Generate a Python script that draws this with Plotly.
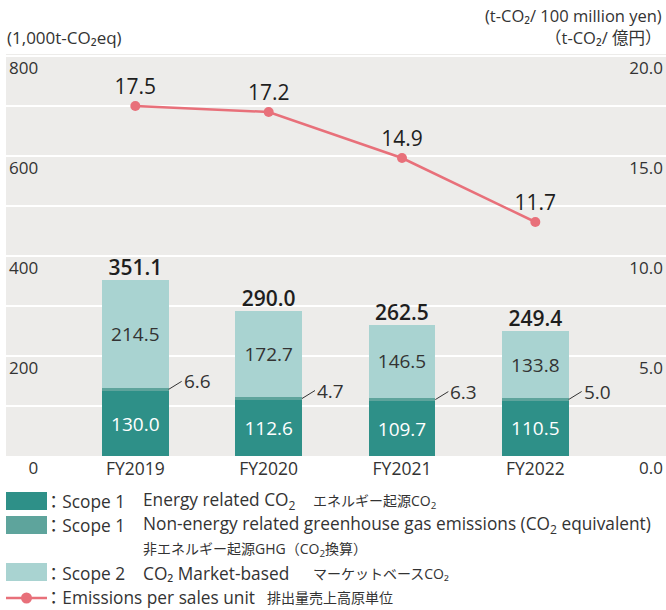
import plotly.graph_objects as go

# ---- data ----
years = ["FY2019", "FY2020", "FY2021", "FY2022"]
scope1_energy = [130.0, 112.6, 109.7, 110.5]
scope1_nonenergy = [6.6, 4.7, 6.3, 5.0]
scope2_market = [214.5, 172.7, 146.5, 133.8]
totals = [351.1, 290.0, 262.5, 249.4]
intensity = [17.5, 17.2, 14.9, 11.7]
left_ticks = [0, 200, 400, 600, 800]
right_ticks = [0, 5, 10, 15, 20]

# ---- styling ----
C_ENERGY = "#2e9088"
C_NONENERGY = "#5ea49c"
C_SCOPE2 = "#a9d3d1"
C_LINE = "#e8707a"
BG = "#edecea"
TXT = "#333333"
FONT = "Open Sans, Noto Sans CJK JP, sans-serif"

W, H = 666, 610
L, R, T, B = 6, 0, 54, 154
PW, PH = W - L - R, H - T - B


def px(x):
    return (x - L) / PW


def py(y):
    return (H - B - y) / PH


xs = list(range(len(years)))

fig = go.Figure()

fig.add_trace(go.Bar(
    x=xs, y=scope1_energy, width=0.5, marker=dict(color=C_ENERGY, line=dict(width=0)),
    text=[f"{v:.1f}" for v in scope1_energy], textposition="inside",
    insidetextanchor="middle", textangle=0,
    textfont=dict(color="white", size=19, family=FONT), hoverinfo="skip"))
fig.add_trace(go.Bar(
    x=xs, y=scope1_nonenergy, width=0.5, marker=dict(color=C_NONENERGY, line=dict(width=0)),
    hoverinfo="skip"))
fig.add_trace(go.Bar(
    x=xs, y=scope2_market, width=0.5, marker=dict(color=C_SCOPE2, line=dict(width=0)),
    text=[f"{v:.1f}" for v in scope2_market], textposition="inside",
    insidetextanchor="middle", textangle=0,
    textfont=dict(color=TXT, size=19, family=FONT), hoverinfo="skip"))

fig.add_trace(go.Scatter(
    x=xs, y=totals, mode="text", text=[f"{v:.1f}" for v in totals],
    textposition="top center",
    textfont=dict(color="#1e1e1e", size=21, family=FONT, weight=600), hoverinfo="skip"))

fig.add_trace(go.Scatter(
    x=xs, y=intensity, yaxis="y2", mode="lines+markers+text",
    line=dict(color=C_LINE, width=2.5), marker=dict(color=C_LINE, size=10),
    text=[f"{v:.1f}" for v in intensity], textposition="top center",
    textfont=dict(color="#1e1e1e", size=21, family=FONT, weight=500), hoverinfo="skip"))

annotations = []
# leader labels for the thin non-energy band
for i, (a, b) in enumerate(zip(scope1_energy, scope1_nonenergy)):
    annotations.append(dict(
        x=i + 0.25, y=a + b / 2, xref="x", yref="y", text=f"{b:.1f}",
        showarrow=True, arrowhead=0, arrowwidth=1, arrowcolor="#333333",
        ax=13, ay=-8, xanchor="left", yanchor="middle",
        font=dict(size=19, color=TXT, family=FONT)))

# axis titles
annotations += [
    dict(x=px(5), y=py(38), xref="paper", yref="paper", xanchor="left", yanchor="middle",
         text="(1,000t-CO₂eq)", showarrow=False, font=dict(size=17, color=TXT, family=FONT)),
    dict(x=px(664), y=py(15), xref="paper", yref="paper", xanchor="right", yanchor="middle",
         text="(t-CO₂/ 100 million yen)", showarrow=False, font=dict(size=16.5, color=TXT, family=FONT)),
    dict(x=px(664), y=py(38), xref="paper", yref="paper", xanchor="right", yanchor="middle",
         text="（t-CO₂/ 億円）", showarrow=False, font=dict(size=16.5, color=TXT, family=FONT)),
]

# custom legend
shapes = [
    dict(type="rect", xref="paper", yref="paper", x0=px(6), x1=px(47), y0=py(510), y1=py(492),
         fillcolor=C_ENERGY, line=dict(width=0)),
    dict(type="rect", xref="paper", yref="paper", x0=px(6), x1=px(47), y0=py(534), y1=py(516),
         fillcolor=C_NONENERGY, line=dict(width=0)),
    dict(type="rect", xref="paper", yref="paper", x0=px(6), x1=px(47), y0=py(581), y1=py(563),
         fillcolor=C_SCOPE2, line=dict(width=0)),
    dict(type="line", xref="paper", yref="paper", x0=px(6), x1=px(47), y0=py(598), y1=py(598),
         line=dict(color=C_LINE, width=2.5)),
    dict(type="circle", xref="paper", yref="paper", x0=px(21), x1=px(32), y0=py(603.5), y1=py(592.5),
         fillcolor=C_LINE, line=dict(width=0)),
]


def leg(x, y, text, size=17.3):
    annotations.append(dict(x=px(x), y=py(y), xref="paper", yref="paper", xanchor="left",
                            yanchor="middle", text=text, showarrow=False,
                            font=dict(size=size, color=TXT, family=FONT)))


leg(43, 501, "：Scope 1")
leg(141, 501, "Energy related CO<sub>2</sub>")
leg(311, 501, "エネルギー起源CO<sub>2</sub>", 14)
leg(43, 525, "：Scope 1")
leg(141, 525, "Non-energy related greenhouse gas emissions (CO<sub>2</sub> equivalent)")
leg(141, 549, "非エネルギー起源GHG（CO<sub>2</sub>換算）", 14)
leg(43, 573, "：Scope 2")
leg(141, 573, "CO₂ Market-based")
leg(311, 573, "マーケットベースCO₂", 14)
leg(43, 597, "：Emissions per sales unit")
leg(265, 597, "排出量売上高原単位", 14)

fig.update_layout(
    width=W, height=H, margin=dict(l=L, r=R, t=T, b=B),
    paper_bgcolor="white", plot_bgcolor=BG, barmode="stack", showlegend=False,
    font=dict(family=FONT, color=TXT),
    xaxis=dict(range=[-0.97, 3.98], tickvals=xs, ticktext=years, showgrid=False,
               zeroline=False, showline=False, ticks="", tickfont=dict(size=17.5, color=TXT),
               fixedrange=True),
    yaxis=dict(range=[0, 804], tickvals=left_ticks,
               ticktext=[str(v).rjust(3, "\u2007") for v in left_ticks],
               ticklabelposition="inside bottom", ticklabeloverflow="allow",
               showgrid=True, gridcolor="white", gridwidth=1.5,
               minor=dict(dtick=100, showgrid=True, gridcolor="white", gridwidth=1.5),
               zeroline=False, showline=False, ticks="", tickfont=dict(size=17, color=TXT)),
    yaxis2=dict(range=[0, 20.1], overlaying="y", side="right", tickvals=right_ticks,
                tickformat=".1f", ticklabelposition="inside bottom", ticklabeloverflow="allow",
                showgrid=False, zeroline=False, showline=False, ticks="",
                tickfont=dict(size=17, color=TXT)),
    shapes=shapes, annotations=annotations,
)

fig.write_html("out.html", config={"displayModeBar": False},
               post_script="document.body.style.margin='0';")
